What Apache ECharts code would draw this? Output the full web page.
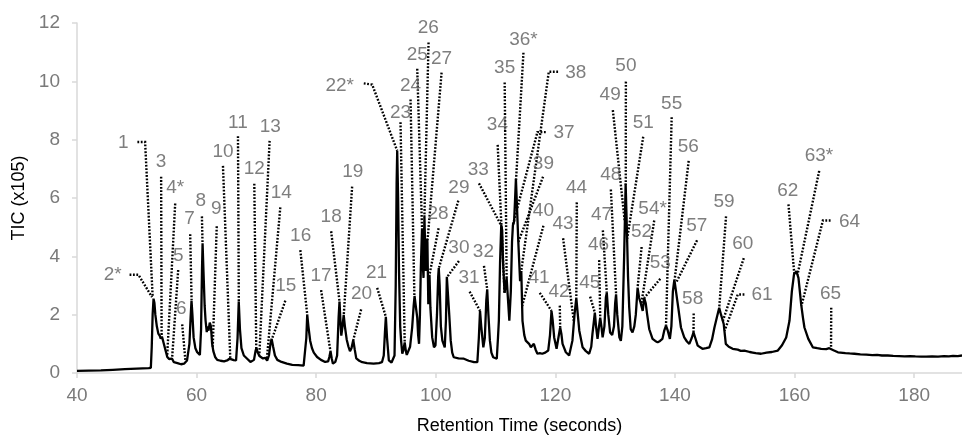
<!DOCTYPE html>
<html>
<head>
<meta charset="utf-8">
<script src="https://cdn.jsdelivr.net/npm/echarts@6/dist/echarts.min.js"></script>
<style>
html,body{margin:0;padding:0;background:#fff;}
#chart{width:962px;height:440px;}
</style>
</head>
<body>
<div id="chart"></div>
<script>
// Chromatogram trace: retention time (s) and TIC (x10^5)
const retentionTime = [
40,42,44,46,48,50,52,52.35,52.5,52.65,52.8,52.95,53.1,53.35,53.6,53.85,54.0,54.2,54.4,54.8,55.1,55.4,55.7,55.9,56.2,56.8,57.4,57.9,58.4,58.8,59.0,59.15,59.3,59.5,59.8,60.1,60.55,60.75,60.9,61.0,61.15,61.35,61.5,61.7,61.85,62.0,62.2,62.4,62.6,62.8,63.1,63.45,64.0,64.6,65.1,65.5,65.8,66.2,66.6,66.85,67.05,67.25,67.5,67.9,68.5,69.0,69.3,69.6,69.85,70.0,70.2,70.5,70.8,71.1,71.5,71.8,72.1,72.35,72.55,72.8,73.1,73.5,74.2,75.1,76.0,77.0,77.9,78.15,78.35,78.5,78.7,79.0,79.3,79.6,80.15,80.8,81.5,82.0,82.2,82.4,82.6,82.8,83.2,83.5,83.75,83.9,84.05,84.2,84.4,84.6,84.8,85.1,85.4,85.65,85.9,86.2,86.45,86.7,87.2,87.7,88.5,89.6,90.5,91.0,91.3,91.5,91.65,91.85,92.15,92.6,92.9,93.1,93.3,93.45,93.55,93.7,93.85,94.05,94.2,94.4,94.6,94.8,95.0,95.15,95.4,95.7,96.05,96.3,96.45,96.65,96.9,97.05,97.2,97.35,97.5,97.7,97.85,97.95,98.1,98.25,98.35,98.5,98.6,98.75,98.95,99.1,99.4,99.7,99.95,100.2,100.4,100.5,100.65,100.85,101.1,101.5,101.7,101.85,102.05,102.25,102.5,102.75,103.0,103.8,104.7,105.5,106.4,106.95,107.2,107.4,107.6,107.95,108.2,108.45,108.6,108.8,109.05,109.3,109.6,110.2,110.4,110.55,110.75,110.95,111.1,111.25,111.5,111.85,112.05,112.3,112.55,112.75,112.9,113.1,113.25,113.4,113.6,113.8,114.1,114.3,114.5,114.8,115.05,115.3,115.6,115.9,116.2,116.4,116.7,117.0,117.4,117.8,118.3,118.8,119.1,119.35,119.55,119.8,120.2,120.5,120.8,121.0,121.2,121.75,122.3,122.85,123.2,123.5,123.75,124.0,124.55,125.1,125.65,126.0,126.2,126.4,126.6,126.8,127.05,127.3,127.5,127.7,127.9,128.2,128.45,128.6,128.85,129.15,129.5,129.8,130.0,130.15,130.35,130.7,130.95,131.2,131.5,131.75,131.95,132.15,132.35,132.6,132.9,133.2,133.45,133.75,134.0,134.2,134.4,134.6,134.85,135.1,135.35,135.7,136.25,136.7,137.1,137.5,137.9,138.2,138.5,138.8,139.15,139.4,139.65,139.9,140.2,140.55,141.0,141.55,142.0,142.4,142.8,143.1,143.4,143.8,144.6,145.2,145.75,146.2,146.6,147.0,147.4,147.7,148.15,148.5,149.0,149.65,150.5,151.0,151.6,152.5,153.0,153.5,154.4,155.3,156.2,157.2,157.9,158.6,159.15,159.55,159.9,160.3,160.65,161.1,161.4,161.65,162.3,163.05,163.8,164.45,165.3,165.8,166.1,166.5,167.25,168.5,169.2,170.0,171.0,172.0,173.0,173.8,174.6,175.6,176.5,177.5,178.4,179.3,180.2,181.2,182.0,183.0,184.0,185.0,185.8,186.5,187.3,188
];
const ticValues = [
0.07,0.08,0.09,0.11,0.13,0.15,0.17,0.18,0.9,2.0,2.55,2.4,2.0,1.6,1.35,1.27,1.18,1.25,1.1,0.78,0.55,0.48,0.5,0.49,0.37,0.34,0.3,0.32,0.43,1.0,1.9,2.48,2.0,1.22,0.85,0.71,0.62,1.5,3.5,4.45,3.5,2.3,1.8,1.4,1.6,1.45,1.73,1.6,1.0,0.75,0.55,0.45,0.42,0.4,0.43,0.49,0.5,0.44,0.43,1.2,2.45,1.5,0.85,0.6,0.48,0.38,0.32,0.45,0.75,0.85,0.72,0.58,0.55,0.5,0.52,0.42,0.6,1.0,1.17,0.9,0.6,0.45,0.38,0.32,0.28,0.27,0.25,0.3,1.2,2.0,1.6,1.1,0.85,0.7,0.55,0.45,0.38,0.4,0.55,0.75,0.5,0.32,0.38,0.6,1.9,2.45,1.8,1.28,1.6,1.99,1.6,1.15,0.9,0.75,0.85,1.13,0.8,0.5,0.42,0.37,0.34,0.32,0.34,0.37,0.6,1.4,1.93,1.2,0.43,0.36,0.35,0.6,3.0,6.5,7.62,6.0,3.5,1.6,1.1,0.66,0.8,1.05,0.75,0.62,0.6,0.9,1.56,2.3,2.64,2.3,1.9,1.3,1.0,2.0,3.6,4.96,3.6,3.26,5.41,4.0,3.5,4.6,4.5,2.36,3.37,2.24,1.22,0.88,0.95,2.0,3.3,3.6,3.0,1.6,1.11,0.88,1.8,3.3,3.25,2.0,1.11,0.7,0.54,0.5,0.49,0.42,0.37,0.37,1.2,2.13,1.6,0.88,1.2,2.5,2.87,2.0,1.11,0.7,0.54,0.49,1.2,1.8,3.8,5.07,4.9,3.8,2.75,3.26,2.6,1.79,2.8,4.5,5.07,5.2,5.9,6.66,5.6,4.5,3.15,3.5,1.79,1.3,1.11,1.05,1.0,0.88,0.9,1.0,0.8,0.66,0.68,0.66,0.7,0.77,1.3,2.13,1.8,1.22,0.83,1.2,1.56,1.35,1.0,0.71,0.6,1.11,2.0,2.58,2.0,1.45,0.88,0.75,0.66,0.9,1.34,1.7,2.07,1.6,1.17,1.6,1.9,1.6,1.22,1.6,2.6,2.75,2.0,1.39,1.3,1.6,2.4,2.7,2.0,1.22,1.1,1.6,4.0,6.5,5.0,3.3,2.24,1.5,1.39,1.6,2.0,2.92,2.58,2.45,2.4,2.13,2.58,2.4,2.0,1.5,1.17,1.1,1.05,1.1,1.17,1.45,1.62,1.45,1.17,1.6,2.8,3.2,3.15,2.24,1.56,1.22,1.08,1.0,1.2,1.39,1.2,0.94,0.83,0.85,0.88,1.15,1.56,1.9,2.24,2.0,1.68,1.0,0.9,0.83,0.8,0.76,0.77,0.72,0.7,0.68,0.66,0.7,0.72,0.77,0.95,1.22,1.79,2.81,3.37,3.49,3.26,2.36,1.9,1.56,1.17,0.88,0.85,0.83,0.82,0.85,0.88,0.78,0.71,0.68,0.67,0.66,0.64,0.63,0.61,0.62,0.6,0.6,0.59,0.58,0.57,0.58,0.57,0.56,0.56,0.57,0.56,0.58,0.57,0.59,0.58,0.6
];

// Peak annotations: label text, label anchor (time, TIC) and dotted leader path points (time, TIC)
const peakLabels = ['1','2*','3','4*','5','6','7','8','9','10','11','12','13','14','15','16','17','18','19','20','21','22*','23','24','25','26','27','28','29','30','31','32','33','34','35','36*','37','38','39','40','41','42','43','44','45','46','47','48','49','50','51','52','53','54*','55','56','57','58','59','60','61','62','63*','64','65'];
const labelTime = [47.76,45.96,54.07,56.42,56.92,57.42,58.81,60.69,63.28,64.41,66.92,69.65,72.33,74.17,74.92,77.4,80.82,82.5,86.11,87.57,90.08,83.94,94.1,95.78,96.9,98.74,100.97,100.39,103.87,103.87,105.55,107.96,107.12,110.3,111.52,114.66,121.46,123.42,118.0,118.0,117.27,120.62,121.29,123.53,125.76,127.22,127.72,129.28,129.16,131.79,134.69,134.42,137.54,136.26,139.45,142.23,143.64,142.96,148.21,151.34,154.57,158.88,164.07,169.2,166.02];
const labelTIC = [7.89,3.36,7.23,6.36,4.01,2.19,5.28,5.91,5.64,7.57,8.59,7.0,8.44,6.18,2.98,4.72,3.34,5.36,6.89,2.7,3.43,9.86,8.93,9.86,10.91,11.82,10.77,5.47,6.35,4.31,3.26,4.15,6.97,8.5,10.46,11.44,8.25,10.29,7.17,5.57,3.26,2.79,5.1,6.35,3.09,4.39,5.41,6.8,9.53,10.54,8.59,4.83,3.77,5.64,9.24,7.77,5.05,2.56,5.87,4.42,2.67,6.26,7.45,5.19,2.72];
const leaderPaths = [
[[50.1,7.92],[51.39,7.92],[52.65,2.62]],
[[48.79,3.37],[50.27,3.37],[52.55,2.6]],
[[54.07,6.73],[54.15,1.27]],
[[56.42,5.81],[55.08,0.58]],
[[56.92,3.53],[55.91,0.52]],
[[57.59,1.67],[58.14,0.4]],
[[58.93,4.76],[59.16,2.5]],
[[60.89,5.37],[60.99,4.45]],
[[63.37,5.03],[62.7,0.9]],
[[64.41,7.1],[65.63,0.52]],
[[66.92,8.12],[67.06,2.45]],
[[69.65,6.49],[69.98,0.83]],
[[72.21,7.96],[70.49,0.6]],
[[74.0,5.68],[71.74,0.45]],
[[74.84,2.48],[72.58,1.15]],
[[77.35,4.21],[78.5,2.0]],
[[80.82,2.84],[82.38,0.75]],
[[82.5,4.86],[83.92,2.42]],
[[86.01,6.39],[84.61,1.98]],
[[87.52,2.18],[86.2,1.13]],
[[90.2,2.92],[91.64,1.93]],
[[87.96,9.93],[89.36,9.89],[93.55,7.62]],
[[94.1,8.6],[94.8,1.05]],
[[95.78,9.38],[96.42,2.64]],
[[96.9,10.43],[97.7,4.96]],
[[98.79,11.33],[98.1,5.41]],
[[100.97,10.3],[98.6,4.5]],
[[100.47,4.96],[98.95,3.37]],
[[103.77,5.91],[100.52,3.6]],
[[103.87,3.84],[101.93,3.3]],
[[105.66,2.79],[107.4,2.13]],
[[108.06,3.67],[108.6,2.87]],
[[107.22,6.5],[110.94,5.06]],
[[110.35,7.82],[111.5,2.75]],
[[111.52,9.96],[111.85,3.26]],
[[114.66,10.98],[113.42,6.62]],
[[118.39,8.26],[117.0,8.26],[112.88,5.07]],
[[120.45,10.33],[118.9,10.33],[114.28,3.48]],
[[117.94,6.73],[113.82,4.5]],
[[118.0,5.05],[114.45,2.3]],
[[117.39,2.75],[119.35,2.13]],
[[120.74,2.31],[120.8,1.56]],
[[121.29,4.62],[123.1,1.75]],
[[123.58,5.85],[123.5,2.58]],
[[125.81,2.62],[126.6,2.07]],
[[127.32,3.87],[127.5,1.9]],
[[127.94,4.89],[128.6,2.75]],
[[129.28,6.29],[130.15,2.7]],
[[129.61,9.01],[131.6,5.2]],
[[131.79,9.99],[131.77,6.45]],
[[134.69,8.1],[132.0,4.6]],
[[134.42,4.32],[133.75,2.92]],
[[137.54,3.23],[134.88,2.58]],
[[136.53,5.23],[134.4,2.4]],
[[139.45,8.77],[138.5,1.62]],
[[142.29,7.27],[139.95,3.2]],
[[143.69,4.55],[140.25,3.12]],
[[143.13,2.04],[143.1,1.39]],
[[148.54,5.37],[147.4,2.24]],
[[151.51,3.94],[148.0,1.78]],
[[151.61,2.69],[150.5,2.69],[148.3,1.45]],
[[158.98,5.78],[159.95,3.4]],
[[164.12,6.93],[160.5,3.38]],
[[166.02,5.23],[164.74,5.23],[161.15,2.3]],
[[166.13,2.24],[166.1,0.9]]
];

const xTicks = [40,60,80,100,120,140,160,180];

const chart = echarts.init(document.getElementById('chart'), null, {renderer:'canvas'});
const font = '"Liberation Sans", Arial, sans-serif';

chart.setOption({
  animation:false,
  backgroundColor:'#ffffff',
  grid:{left:77,right:0,top:23,bottom:64,containLabel:false},
  xAxis:{
    type:'value',min:40,max:188,interval:20,
    name:'Retention Time (seconds)',nameLocation:'middle',nameGap:44,
    nameTextStyle:{fontFamily:font,fontSize:18,color:'#000000'},
    axisLine:{show:true,lineStyle:{color:'#d9d9d9',width:1.5}},
    axisTick:{show:true,length:5,customValues:xTicks,lineStyle:{color:'#d9d9d9',width:1.5}},
    axisLabel:{customValues:xTicks,margin:13,fontFamily:font,fontSize:19,color:'#7a7a7a'},
    splitLine:{show:false}
  },
  yAxis:{
    type:'value',min:0,max:12,interval:2,
    name:'TIC (x105)',nameLocation:'middle',nameGap:46,
    nameTextStyle:{fontFamily:font,fontSize:18,color:'#000000'},
    axisLine:{show:true,lineStyle:{color:'#d9d9d9',width:1.5}},
    axisTick:{show:true,length:5,lineStyle:{color:'#d9d9d9',width:1.5}},
    axisLabel:{margin:17,fontFamily:font,fontSize:19,color:'#7a7a7a'},
    splitLine:{show:false}
  },
  series:[
    {
      type:'lines',coordinateSystem:'cartesian2d',polyline:true,silent:true,z:2,
      lineStyle:{color:'#000',width:2.4,type:[1.8,1.6],opacity:1},
      data:leaderPaths.map(p=>({coords:p}))
    },
    {
      type:'line',z:3,symbol:'none',smooth:false,
      lineStyle:{color:'#000',width:2.3},
      data:retentionTime.map((t,i)=>[t,ticValues[i]])
    },
    {
      type:'scatter',z:4,symbolSize:0,silent:true,
      label:{show:true,position:'inside',formatter:p=>p.name,fontFamily:font,fontSize:19,color:'#5e5e5e'},
      data:peakLabels.map((s,i)=>({name:s,value:[labelTime[i],labelTIC[i]]}))
    }
  ]
});
</script>
</body>
</html>
